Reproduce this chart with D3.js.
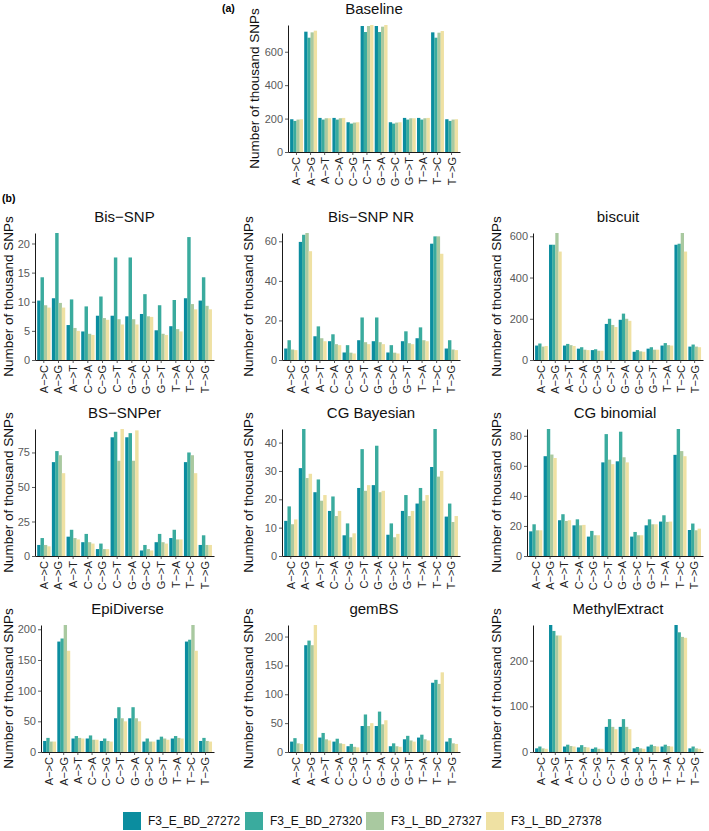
<!DOCTYPE html>
<html><head><meta charset="utf-8">
<script src="https://cdn.jsdelivr.net/npm/d3@7"></script>
<style>
body{margin:0;background:#fff}
svg{display:block}
text{font-family:"Liberation Sans",Arial,Helvetica,sans-serif}
</style>
</head><body>
<svg id="chart" width="709" height="831"></svg>
<script>
// ---------- DATA ----------
const categories = ["A−>C","A−>G","A−>T","C−>A","C−>G","C−>T","G−>A","G−>C","G−>T","T−>A","T−>C","T−>G"];
const seriesNames = ["F3_E_BD_27272","F3_E_BD_27320","F3_L_BD_27327","F3_L_BD_27378"];
const seriesColors = ["#0b8d9f","#3aab9e","#a9c9a0","#efe1a3"];
const yAxisTitle = "Number of thousand SNPs";

// each array: one row per series, one value per category (thousand SNPs)
const baseline = [
  [196,720,204,204,178,754,754,178,204,204,716,196],
  [186,684,194,194,170,718,718,170,194,194,684,186],
  [194,716,202,202,176,754,750,176,202,202,714,194],
  [196,726,202,204,178,760,760,178,202,204,724,196]
];
const bisSNP = [
  [10.2,10.6,6.0,4.9,7.6,7.6,7.5,7.9,5.1,5.8,10.6,10.2],
  [14.2,21.8,10.4,9.2,10.9,17.6,17.6,11.3,9.4,10.3,21.1,14.2],
  [9.4,9.8,5.5,4.5,7.2,7.0,7.0,7.5,4.5,5.3,9.6,9.3],
  [9.0,9.0,5.0,4.3,6.9,6.1,6.1,7.4,4.3,4.9,8.7,8.7]
];
const bisSNPNR = [
  [5.8,59.7,12.0,9.5,3.8,10.0,9.5,3.8,9.5,11.0,58.8,5.8],
  [10.0,63.3,17.0,13.0,7.5,21.5,21.5,7.5,14.5,16.5,62.5,10.0],
  [5.3,64.2,11.0,8.0,3.7,9.0,9.0,3.7,8.5,10.0,62.5,5.3],
  [5.0,55.0,9.5,7.5,3.3,8.0,8.0,3.3,8.0,9.5,53.7,5.0]
];
const biscuit = [
  [70,559,70,55,48,175,195,40,55,70,559,65],
  [80,559,78,62,52,200,225,48,62,82,564,75],
  [65,616,72,50,45,170,200,42,50,72,616,65],
  [68,526,68,48,45,160,190,40,50,70,526,62]
];
const bsSNPer = [
  [8,68,14,10,5,86,86,4,10,13,68,8],
  [13,76,19,16,9,90,89,8,16,19,75,15],
  [8,73,13,10,5,69,69,5,10,12,73,8],
  [7,60,12,9,5,92,91,4,9,12,60,8]
];
const cgBayesian = [
  [12.4,31,22.5,15.9,7.3,24,25,7.5,15.9,18.5,31.4,13.9],
  [17.5,44.8,27,21,11.5,37.7,38.9,11.5,21.5,24,44.8,18.5],
  [11.2,27.5,19.5,14.1,6.6,23,22.5,6.6,14.1,19.5,28,12],
  [12.9,29,21.5,15.9,8,25,23,7.8,15.9,21.5,30,14.1]
];
const cgBinomial = [
  [16.4,66.4,23.8,20.4,12.9,62.3,63.0,12.9,20.4,22.9,67.3,17.3],
  [21.1,84.5,27.8,24.4,16.7,81.1,82.7,16.0,24.4,27.1,84.5,21.6],
  [17.1,67.5,23.3,20.4,13.8,64.1,65.7,13.8,21.1,22.7,69.8,17.1],
  [17.1,65.2,23.8,20.7,13.8,61.1,62.3,13.8,21.1,22.9,66.4,18.2]
];
const epiDiverse = [
  [18,180,22,22,18,55,55,17,20,22,180,18],
  [23,185,26,27,22,73,73,22,25,26,183,23],
  [17,207,23,20,18,55,55,17,22,23,207,18],
  [17,165,22,20,17,50,50,17,20,22,165,17]
];
const gemBS = [
  [18,185,25,18,10,45,45,10,22,25,120,18],
  [24,193,33,23,14,65,70,15,28,30,125,24],
  [15,185,22,15,9,45,48,10,20,22,118,15],
  [14,220,20,14,8,50,55,9,18,20,138,14]
];
const methylExtract = [
  [8,278,12,10,7,55,55,8,12,12,278,8],
  [12,265,16,15,10,72,72,11,16,16,262,12],
  [8,255,13,11,7,55,55,8,13,13,252,8],
  [7,255,12,10,7,50,50,7,12,12,250,7]
];
const panelTitles = ["Baseline","Bis−SNP","Bis−SNP NR","biscuit","BS−SNPer","CG Bayesian","CG binomial","EpiDiverse","gemBS","MethylExtract"];
const panelTicks = [
  [0,200,400,600],[0,5,10,15,20],[0,20,40,60],[0,200,400,600],
  [0,25,50,75],[0,10,20,30,40],[0,20,40,60,80],
  [0,50,100,150,200],[0,50,100,150,200],[0,100,200]
];
const panelData = [baseline,bisSNP,bisSNPNR,biscuit,bsSNPer,cgBayesian,cgBinomial,epiDiverse,gemBS,methylExtract];

// ---------- LAYOUT ----------
const colLabelLeft = [18,265,510], colRight = [214,460,703], colYTitle = [8,248,496];
const rowTop = [233,429,625], rowBottom = [360,556,752];
const layouts = [{labelLeft:265,right:460,top:25,bottom:152,yt:254}];
for (let r=0;r<3;r++) for (let c=0;c<3;c++)
  layouts.push({labelLeft:colLabelLeft[c],right:colRight[c],top:rowTop[r],bottom:rowBottom[r],yt:colYTitle[c]});

const svg = d3.select("#chart");
svg.append("rect").attr("width",709).attr("height",831).attr("fill","#fff");

// measure tick label width
const meas = svg.append("text").attr("font-size",11).style("font-family",'"Liberation Sans",Arial,sans-serif');
function textW(s){ meas.text(s); return meas.node().getComputedTextLength(); }

panelData.forEach((data,i)=>{
  const L = layouts[i];
  const tw = d3.max(panelTicks[i], t=>textW(String(t)));
  L.left = Math.round(L.labelLeft + tw + 5);
  const g = svg.append("g");
  const maxV = d3.max(data.flat());
  const x = d3.scaleBand().domain(categories).range([L.left,L.right]).paddingInner(0).paddingOuter(0.1);
  const xs = d3.scaleBand().domain(d3.range(seriesNames.length)).range([0,x.bandwidth()]).paddingInner(0).paddingOuter(0.2222);
  const y = d3.scaleLinear().domain([0,maxV]).range([L.bottom,L.top]);

  // bars
  data.forEach((vals,s)=>{
    g.selectAll(null).data(vals).enter().append("rect")
      .attr("x",(d,k)=>x(categories[k])+xs(s))
      .attr("width",xs.bandwidth()+0.15)
      .attr("y",d=>y(d))
      .attr("height",d=>y(0)-y(d))
      .attr("fill",seriesColors[s]);
  });

  // y axis
  const ya = g.append("g").attr("transform",`translate(${L.left},0)`)
    .call(d3.axisLeft(y).tickValues(panelTicks[i]).tickSize(3).tickPadding(2).tickSizeOuter(0));
  ya.select(".domain").attr("stroke","#000").attr("stroke-width",0.9);
  ya.selectAll(".tick line").attr("stroke","#333").attr("stroke-width",0.8);
  ya.selectAll(".tick text").attr("fill","#5a5a5a").attr("font-size",11)
    .style("font-family",'"Liberation Sans",Arial,sans-serif');

  // x axis
  const xa = g.append("g").attr("transform",`translate(0,${L.bottom})`)
    .call(d3.axisBottom(x).tickSize(3).tickPadding(2).tickSizeOuter(0));
  xa.select(".domain").attr("stroke","#000").attr("stroke-width",0.9);
  xa.selectAll(".tick line").attr("stroke","#333").attr("stroke-width",0.8);
  xa.selectAll(".tick text")
    .attr("fill","#222").attr("font-size",11)
    .style("font-family",'"Liberation Sans",Arial,sans-serif')
    .attr("transform","rotate(-90)")
    .attr("text-anchor","end")
    .attr("x",-5).attr("y",0).attr("dy","0.36em");

  // title
  g.append("text").attr("x",(L.left+L.right)/2).attr("y",L.top-11)
    .attr("text-anchor","middle").attr("font-size",15).attr("fill","#111")
    .text(panelTitles[i]);

  // y title
  g.append("text").attr("transform",`translate(${L.yt},${(L.top+L.bottom)/2}) rotate(-90)`)
    .attr("text-anchor","middle").attr("dy","0.36em").attr("font-size",13.5).attr("fill","#111")
    .text(yAxisTitle);
});
meas.remove();

// panel tags
svg.append("text").attr("x",222).attr("y",12).attr("font-size",10.5).attr("font-weight","bold").text("(a)");
svg.append("text").attr("x",2).attr("y",202).attr("font-size",10.5).attr("font-weight","bold").text("(b)");

// legend
const legX = [123,245,366,486];
const leg = svg.append("g");
seriesNames.forEach((n,s)=>{
  leg.append("rect").attr("x",legX[s]).attr("y",812).attr("width",18).attr("height",18).attr("fill",seriesColors[s]);
  leg.append("text").attr("x",legX[s]+25).attr("y",821).attr("dy","0.36em").attr("font-size",12).attr("fill","#111").text(n);
});
</script>
</body></html>
